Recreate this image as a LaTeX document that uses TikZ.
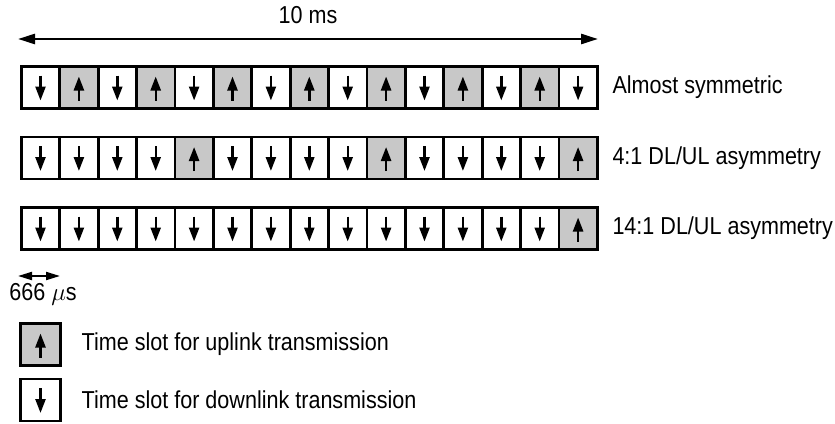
\documentclass[tikz,border=0pt]{standalone}
\usepackage{fontspec}
\setmainfont{Liberation Sans}[FakeStretch=0.88]
\usepackage{xcolor}
\usetikzlibrary{arrows.meta, positioning}
\definecolor{ulgray}{RGB}{200,200,200}
\tikzset{
  slot/.style={rectangle, draw, line width=2.8pt, minimum width=38.4pt,
               minimum height=42pt, inner sep=0pt, outer sep=0pt},
  tiparrow/.style={-{Triangle[length=14pt, width=10pt]}, line width=2.4pt},
  dl slot/.style={slot, fill=white, path picture={
      \draw[tiparrow] ([yshift=12pt]path picture bounding box.center)
        -- ([yshift=-13pt]path picture bounding box.center);}},
  ul slot/.style={slot, fill=ulgray, path picture={
      \draw[tiparrow] ([yshift=-13pt]path picture bounding box.center)
        -- ([yshift=11pt]path picture bounding box.center);}},
  keytext/.style={inner sep=0pt, anchor=west},
  span/.style={{Triangle[length=17pt, width=10pt]}-{Triangle[length=17pt, width=10pt]},
               line width=2.6pt},
  tick/.style={{Triangle[length=14pt, width=8pt]}-{Triangle[length=14pt, width=8pt]},
               line width=2pt},
}

\begin{document}
\begin{tikzpicture}[x=1pt, y=-1pt, font=\fontsize{24.5}{28}\selectfont]
  \useasboundingbox (0,0) rectangle (835,423);

  % frame length
  \coordinate (spanL) at (18,39);
  \coordinate (spanR) at (598,39);
  \draw[span] (spanL) -- node[above=14pt, inner sep=0pt] (frame) {10 ms} (spanR);

  % the three frames
  \foreach \k [count=\i] in {dl,ul,dl,ul,dl,ul,dl,ul,dl,ul,dl,ul,dl,ul,dl}
    \node[\k\space slot] (ra\i) at ({21.3+38.4*(\i-0.5)},87.5) {};
  \foreach \k [count=\i] in {dl,dl,dl,dl,ul,dl,dl,dl,dl,ul,dl,dl,dl,dl,ul}
    \node[\k\space slot] (rb\i) at ({21.3+38.4*(\i-0.5)},158) {};
  \foreach \k [count=\i] in {dl,dl,dl,dl,dl,dl,dl,dl,dl,dl,dl,dl,dl,dl,ul}
    \node[\k\space slot] (rc\i) at ({21.3+38.4*(\i-0.5)},228.5) {};

  \node[keytext, right=15pt of ra15] (ralbl) {Almost symmetric};
  \node[keytext, right=15pt of rb15] (rblbl) {4:1 DL/UL asymmetry};
  \node[keytext, right=15pt of rc15] (rclbl) {14:1 DL/UL asymmetry};

  % slot length
  \coordinate (tickL) at (18,276);
  \coordinate (tickR) at (60,276);
  \draw[tick] (tickL) -- (tickR);
  \node[anchor=base, inner sep=0pt] (ticklbl) at (43,300) {666 $\mu$s};

  % key
  \node[ul slot, minimum width=40pt] (ulkey) at (40.5,344.5) {};
  \node[dl slot, minimum width=40pt] (dlkey) at (40.5,400) {};
  \node[keytext, right=21pt of ulkey] (ultext) {Time slot for uplink transmission};
  \node[keytext, right=21pt of dlkey] (dltext) {Time slot for downlink transmission};
\end{tikzpicture}
\end{document}
